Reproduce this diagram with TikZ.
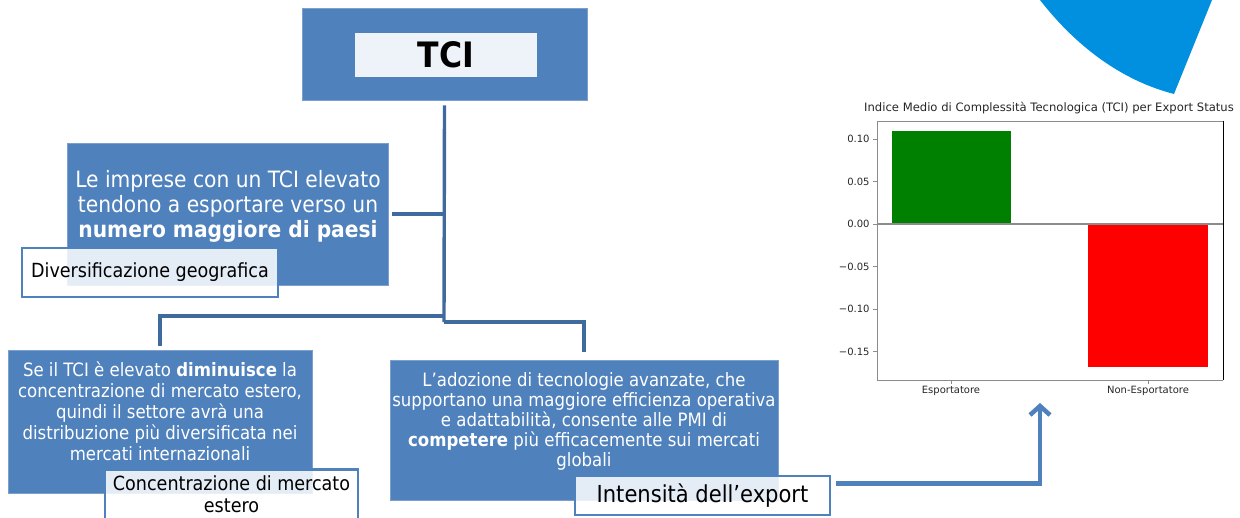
\documentclass[tikz,border=0pt]{standalone}
\usepackage{fontspec}
\setmainfont{DejaVu Sans Condensed}
\newfontfamily\plotfont{DejaVu Sans}
\usetikzlibrary{arrows.meta}
\definecolor{boxblue}{HTML}{4F81BD}
\definecolor{linkblue}{HTML}{3F6A9E}
\definecolor{paleblue}{HTML}{EEF3FA}
\definecolor{wedgeblue}{HTML}{0090DF}
\definecolor{bargreen}{HTML}{008000}
\definecolor{barred}{HTML}{FF0000}
\definecolor{spinegrey}{HTML}{8C8C8C}

\begin{document}
\begin{tikzpicture}[x=1pt, y=-1pt, inner sep=0pt,
	bluebox/.style={fill=boxblue, draw=boxblue!75!white, line width=0.8pt},
	boxtext/.style={text=white, align=center},
	tagbox/.style={draw=boxblue, line width=2.8pt, fill=white, fill opacity=0.85, text opacity=1, align=center},
	link/.style={draw=linkblue, line width=3.4pt},
	plottext/.style={text=black!85, font=\plotfont\fontsize{10}{12}\selectfont}]
	\useasboundingbox (0,0) rectangle (1240,517);

	\node[bluebox, minimum width=285pt, minimum height=92pt] (tci) at (444.5,54) {};
	\node[fill=paleblue, minimum width=182pt, minimum height=44pt, font=\fontsize{35}{40}\selectfont\bfseries] (tcilabel) at (446,55) {TCI};

	\node[bluebox, minimum width=321pt, minimum height=142pt] (imprese) at (227.5,214) {};
	\node[boxtext, font=\fontsize{22.5}{25}\selectfont] (impresetext) at (228,206) {Le imprese con un TCI elevato\\tendono a esportare verso un\\\textbf{numero maggiore di paesi}};
	\node[tagbox, minimum width=256pt, minimum height=49pt, font=\fontsize{19.5}{22}\selectfont] (geo) at (150,272.5) {Diversificazione geografica};

	\node[bluebox, minimum width=304pt, minimum height=143pt] (setci) at (160,421.5) {};
	\node[boxtext, font=\fontsize{18.4}{21}\selectfont] (setcitext) at (160,411.5) {Se il TCI è elevato \textbf{diminuisce} la\\concentrazione di mercato estero,\\quindi il settore avrà una\\distribuzione più diversificata nei\\mercati internazionali};
	\node[tagbox, minimum width=253pt, minimum height=50pt, font=\fontsize{19.5}{22}\selectfont] (conc) at (231.5,494.5) {Concentrazione di mercato\\estero};

	\node[bluebox, minimum width=388pt, minimum height=140pt] (adozione) at (584,430) {};
	\node[boxtext, font=\fontsize{18.4}{20}\selectfont] (adozionetext) at (584,421) {L’adozione di tecnologie avanzate, che\\supportano una maggiore efficienza operativa\\e adattabilità, consente alle PMI di\\\textbf{competere} più efficacemente sui mercati\\globali};
	\node[tagbox, minimum width=255pt, minimum height=39pt, font=\fontsize{23.4}{26}\selectfont] (intensita) at (702.5,495.5) {Intensità dell’export};

	% tree connectors
	\coordinate (hub) at (444,322);
	\coordinate (hubleft) at (444,316);
	\draw[link] ([yshift=-5pt]tci.south) -- (hub);
	\draw[link] ([xshift=4pt]imprese.east) -- (imprese.east -| hub);
	\draw[link] (hubleft) -| ([yshift=4pt]setci.north);
	\draw[link] (hub) -| ([yshift=8pt]adozione.north);

	\coordinate (chartfoot) at (1040,403);
	\draw[boxblue, line width=4.5pt, -{Straight Barb[length=9pt, width=20pt]}] ([xshift=5pt, yshift=12pt]intensita.east) -| (chartfoot);

	% bar chart
	\fill[wedgeblue] (1040,0) .. controls (1075,45) and (1120,80) .. (1174,94) -- (1212,0) -- cycle;
	\node[plottext, font=\plotfont\fontsize{11.6}{13}\selectfont] (charttitle) at (1049,108) {Indice Medio di Complessità Tecnologica (TCI) per Export Status};
	\fill[bargreen] (892,224) rectangle (1011,131);
	\fill[barred] (1088,224) rectangle (1208,367);
	\draw[spinegrey, line width=1.5pt] (877,224) -- (1223,224);
	\draw[spinegrey, line width=0.8pt] (1223,121) -- (877,121) -- (877,380) -- (1223,380);
	\draw[black, line width=0.8pt] (1223,121) -- (1223,380);
	\foreach \v/\lab [count=\i] in {0.10/0.10, 0.05/0.05, 0/0.00, -0.05/−0.05, -0.10/−0.10, -0.15/−0.15}
		\draw[spinegrey, line width=0.8pt] (873,{224-\v*850}) -- (877,{224-\v*850}) node[plottext, left=3pt] (ytick\i) at (873,{224-\v*850}) {\lab};
	\foreach \x/\lab [count=\i] in {951/Esportatore, 1148/Non-Esportatore}
		\draw[spinegrey, line width=0.8pt] (\x,380) -- (\x,384) node[plottext, below=2pt] (xtick\i) {\lab};
\end{tikzpicture}
\end{document}
